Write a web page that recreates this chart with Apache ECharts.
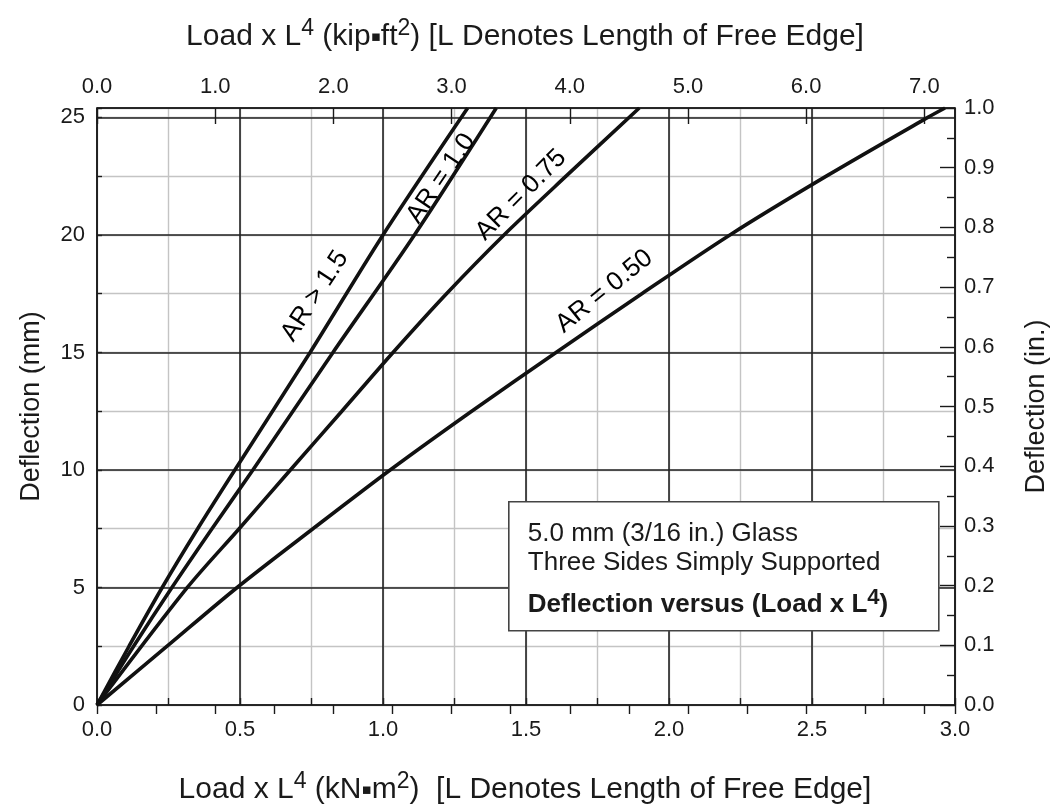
<!DOCTYPE html>
<html>
<head>
<meta charset="utf-8">
<title>Deflection versus (Load x L4)</title>
<script src="https://cdn.jsdelivr.net/npm/echarts@6/dist/echarts.min.js"></script>
<style>
  html, body { margin: 0; padding: 0; background: #fff; }
  #chart { width: 1050px; height: 810px; }
</style>
</head>
<body>
<div id="chart"></div>
<script>
var FONT = '"Liberation Sans", Arial, Helvetica, sans-serif';
var INK = '#1a1a1a';
var KIP_FT2 = 0.41325; // 1 kip*ft2 in kN*m2

// load x L^4 (kN*m2) and deflection (mm)
var loadAR15 = [0, 0.112, 0.228, 0.352, 0.482, 0.745, 1.0, 1.296];
var deflAR15 = [0, 2.5, 5, 7.5, 10, 15, 20, 25.4];

var loadAR10 = [0, 0.128, 0.262, 0.402, 0.545, 0.825, 1.11, 1.396];
var deflAR10 = [0, 2.5, 5, 7.5, 10, 15, 20, 25.4];

var loadAR075 = [0, 0.316, 0.497, 0.676, 0.856, 1.035, 1.222, 1.423, 1.64, 1.896];
var deflAR075 = [0, 5, 7.5, 10, 12.5, 15, 17.5, 20, 22.5, 25.4];

var loadAR050 = [0, 0.245, 0.49, 0.755, 1.025, 1.31, 1.605, 1.905, 2.213, 2.55, 2.905, 2.965];
var deflAR050 = [0, 2.5, 5, 7.5, 10, 12.5, 15, 17.5, 20, 22.5, 25, 25.4];

// curve labels
var labelText = ['AR > 1.5', 'AR = 1.0', 'AR = 0.75', 'AR = 0.50'];
var labelLoad = [0.762, 1.203, 1.483, 1.774];
var labelDefl = [17.4, 22.4, 21.7, 17.6];
var labelAngle = [57, 56, 45, 39];

function pairs(xs, ys) {
  return xs.map(function (x, i) { return [x, ys[i]]; });
}
function fixed1(v) { return v.toFixed(1); }

var chart = echarts.init(document.getElementById('chart'));

var darkGrid = { show: true, lineStyle: { color: '#222', width: 1.6 } };
var lightGrid = { show: true, lineStyle: { color: '#c4c4c4', width: 1.4 } };
var axisLineDark = { show: true, onZero: false, lineStyle: { color: INK, width: 1.6 } };
var tickLabel = { fontFamily: FONT, fontSize: 22, color: INK };

var titleRich = {
  a: { fontFamily: FONT, fontSize: 30, fontWeight: 'normal', lineHeight: 40, color: INK },
  s: { fontFamily: FONT, fontSize: 23, fontWeight: 'normal', lineHeight: 23, verticalAlign: 'top', color: INK },
  d: { fontFamily: 'DejaVu Sans', fontSize: 15, fontWeight: 'normal', lineHeight: 40, color: INK }
};

function curve(name, xs, ys) {
  return {
    name: name,
    type: 'line',
    xAxisIndex: 1,
    yAxisIndex: 1,
    smooth: 0.3,
    symbol: 'none',
    z: 5,
    lineStyle: { color: '#111', width: 3.6 },
    data: pairs(xs, ys)
  };
}

var option = {
  backgroundColor: '#fff',
  animation: false,
  title: [
    {
      text: '{a|Load x L}{s|4}{a| (kip}{d|▪}{a|ft}{s|2}{a|) [L Denotes Length of Free Edge]}',
      left: 'center',
      top: 17,
      padding: 0,
      textStyle: { fontWeight: 'normal', rich: titleRich }
    },
    {
      text: '{a|Load x L}{s|4}{a| (kN}{d|▪}{a|m}{s|2}{a|)  [L Denotes Length of Free Edge]}',
      left: 'center',
      top: 770,
      padding: 0,
      textStyle: { fontWeight: 'normal', rich: titleRich }
    }
  ],
  grid: {
    left: 97,
    right: 95,
    top: 108,
    bottom: 105,
    containLabel: false,
    outerBoundsMode: 'none'
  },
  xAxis: [
    { // light grid every 0.25
      type: 'value', position: 'bottom', min: 0, max: 3, interval: 0.25, z: 0,
      axisLine: { show: false },
      axisTick: { show: true, inside: true, length: 7, lineStyle: { color: INK, width: 1.4 } },
      axisLabel: { show: false },
      splitLine: lightGrid
    },
    { // kN*m2
      type: 'value', position: 'bottom', min: 0, max: 3, interval: 0.5, z: 1,
      axisLine: axisLineDark,
      axisTick: { show: false },
      axisLabel: Object.assign({ margin: 14, formatter: fixed1 }, tickLabel),
      splitLine: darkGrid
    },
    { // kip*ft2
      type: 'value', position: 'top', min: 0, max: 3 / KIP_FT2, interval: 1, z: 1,
      axisLine: axisLineDark,
      axisTick: { show: true, inside: true, length: 16, lineStyle: { color: INK, width: 1.4 } },
      axisLabel: Object.assign({ margin: 10, formatter: fixed1, showMaxLabel: false }, tickLabel),
      splitLine: { show: false }
    },
    {
      type: 'value', position: 'top', min: 0, max: 3 / KIP_FT2, interval: 0.5, z: 1,
      axisLine: { show: false },
      axisTick: { show: true, inside: true, length: 9, lineStyle: { color: INK, width: 1.4 } },
      axisLabel: { show: false },
      splitLine: { show: false }
    }
  ],
  yAxis: [
    { // light grid every 2.5 mm
      type: 'value', position: 'left', min: 0, max: 25.4, interval: 2.5, z: 0,
      axisLine: { show: false },
      axisTick: { show: true, inside: true, length: 5, lineStyle: { color: INK, width: 1.4 } },
      axisLabel: { show: false },
      splitLine: lightGrid
    },
    { // mm
      type: 'value', position: 'left', min: 0, max: 25.4, interval: 5, z: 1,
      name: 'Deflection (mm)',
      nameLocation: 'middle',
      nameRotate: 90,
      nameGap: 52,
      nameTextStyle: { fontFamily: FONT, fontSize: 27, color: INK },
      axisLine: axisLineDark,
      axisTick: { show: false },
      axisLabel: Object.assign({ margin: 12, showMaxLabel: false }, tickLabel),
      splitLine: darkGrid
    },
    { // in.
      type: 'value', position: 'right', min: 0, max: 1.0, interval: 0.1, z: 1,
      name: 'Deflection (in.)',
      nameLocation: 'middle',
      nameRotate: 90,
      nameGap: 68,
      nameTextStyle: { fontFamily: FONT, fontSize: 27, color: INK },
      axisLine: axisLineDark,
      axisTick: { show: true, inside: true, length: 15, lineStyle: { color: INK, width: 1.4 } },
      minorTick: { show: true, splitNumber: 2, length: 8, lineStyle: { color: INK, width: 1.4 } },
      axisLabel: Object.assign({ margin: 9, formatter: fixed1 }, tickLabel),
      splitLine: { show: false }
    }
  ],
  series: [
    curve('AR > 1.5', loadAR15, deflAR15),
    curve('AR = 1.0', loadAR10, deflAR10),
    curve('AR = 0.75', loadAR075, deflAR075),
    curve('AR = 0.50', loadAR050, deflAR050),
    {
      name: 'labels',
      type: 'scatter',
      xAxisIndex: 1,
      yAxisIndex: 1,
      symbolSize: 1,
      silent: true,
      z: 6,
      itemStyle: { color: 'rgba(0,0,0,0)' },
      label: {
        show: true,
        position: 'inside',
        formatter: '{b}',
        fontFamily: FONT,
        fontSize: 26,
        color: '#000',
        opacity: 1,
        textBorderWidth: 0
      },
      data: labelText.map(function (t, i) {
        return { name: t, value: [labelLoad[i], labelDefl[i]], label: { rotate: labelAngle[i] } };
      })
    }
  ],
  graphic: [
    {
      type: 'group',
      left: 508,
      top: 501,
      z: 100,
      children: [
        {
          type: 'rect',
          z: 100,
          shape: { x: 0, y: 0, width: 430, height: 129 },
          style: { fill: '#fff', stroke: '#444', lineWidth: 1.6 }
        },
        {
          type: 'text',
          z: 101,
          x: 19, y: 32,
          style: { text: '5.0 mm (3/16 in.) Glass', font: '26px ' + FONT, fill: INK, verticalAlign: 'middle' }
        },
        {
          type: 'text',
          z: 101,
          x: 19, y: 61,
          style: { text: 'Three Sides Simply Supported', font: '26px ' + FONT, fill: INK, verticalAlign: 'middle' }
        },
        {
          type: 'text',
          z: 101,
          x: 19, y: 103,
          style: {
            text: '{b|Deflection versus (Load x L}{s|4}{b|)}',
            verticalAlign: 'middle',
            rich: {
              b: { fontFamily: FONT, fontSize: 26, fontWeight: 'bold', lineHeight: 36, fill: INK, color: INK },
              s: { fontFamily: FONT, fontSize: 22, lineHeight: 22, verticalAlign: 'top', fontWeight: 'bold', fill: INK, color: INK }
            }
          }
        }
      ]
    }
  ]
};

chart.setOption(option);
</script>
</body>
</html>
